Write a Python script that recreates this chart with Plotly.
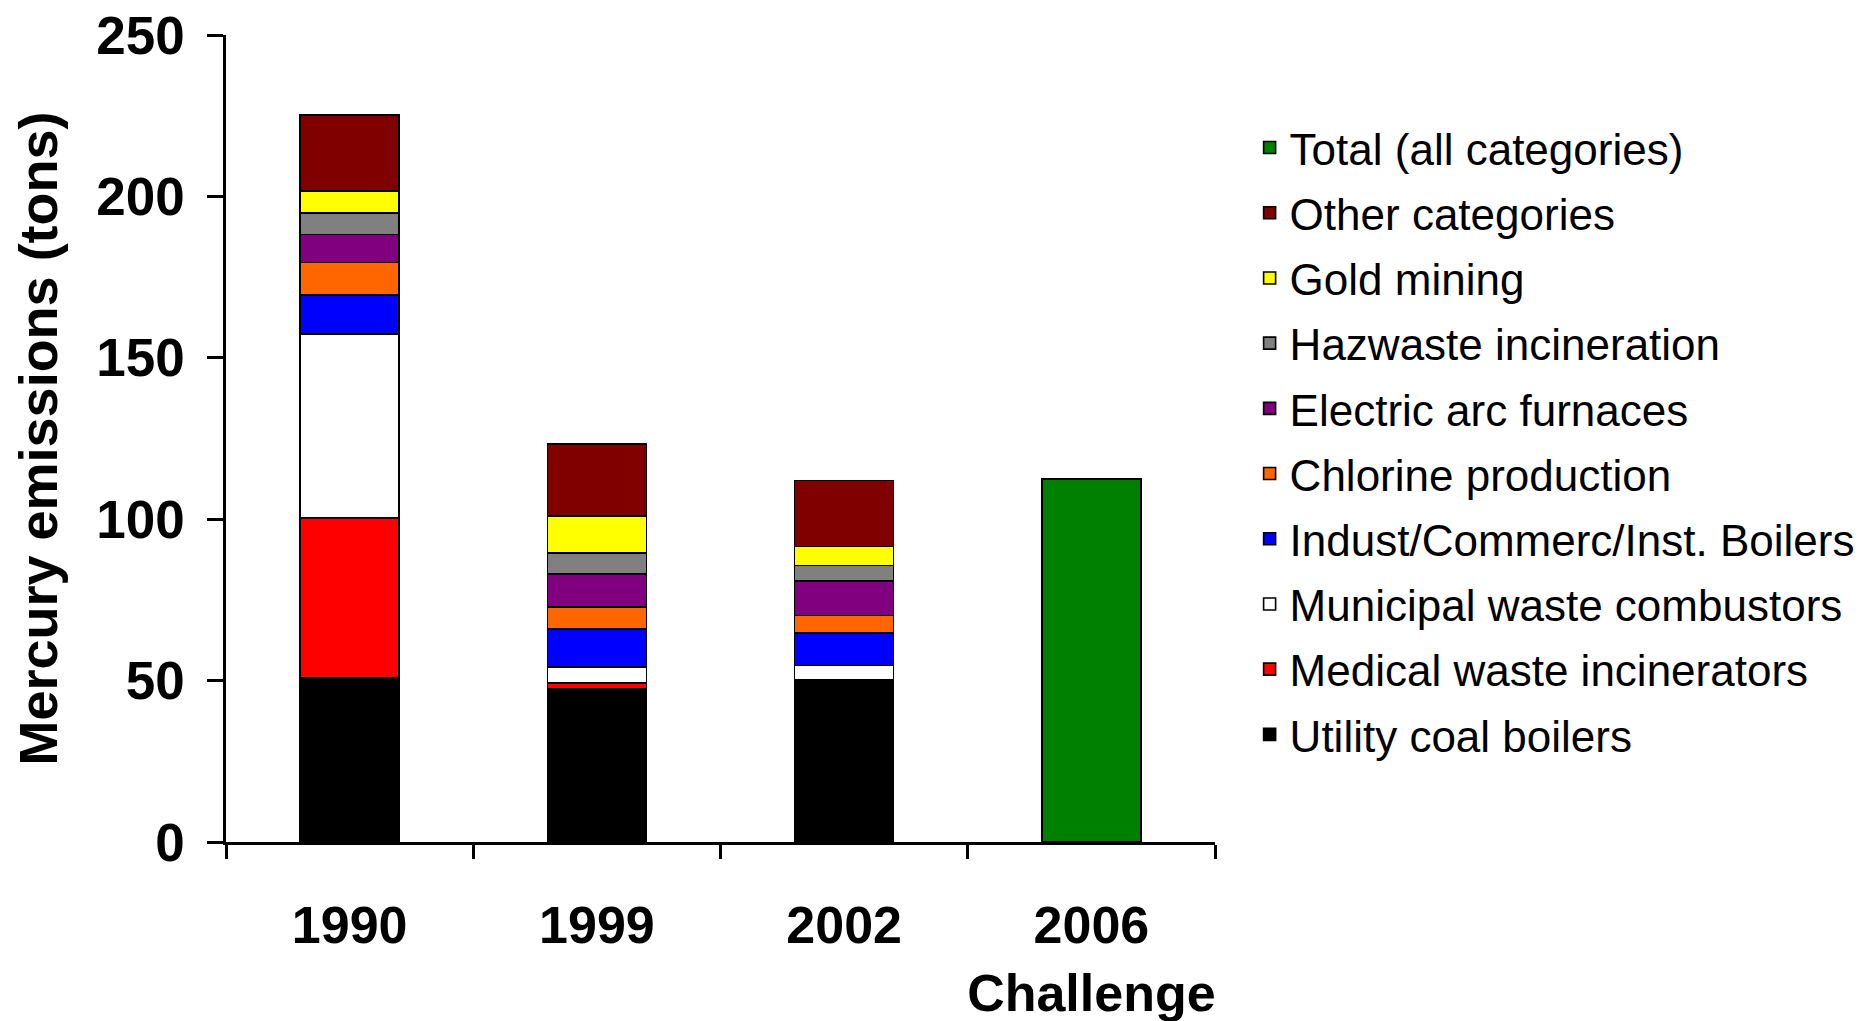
import plotly.graph_objects as go

categories = ["1990", "1999", "2002", "2006<br>Challenge"]

series_names = [
    "Utility coal boilers",
    "Medical waste incinerators",
    "Municipal waste combustors",
    "Indust/Commerc/Inst. Boilers",
    "Chlorine production",
    "Electric arc furnaces",
    "Hazwaste incineration",
    "Gold mining",
    "Other categories",
]
series_colors = [
    "#000000", "#FF0000", "#FFFFFF", "#0000FF", "#FF6600",
    "#800080", "#808080", "#FFFF00", "#800000",
]

# values for 1990, 1999, 2002 (2006 has only the total)
utility_coal = [51.0, 47.5, 50.3, None]
medical_waste = [49.3, 1.7, 0.0, None]
municipal_waste = [57.0, 5.0, 4.4, None]
ici_boilers = [12.2, 11.8, 10.1, None]
chlorine = [10.0, 6.8, 5.4, None]
electric_arc = [8.7, 10.3, 10.6, None]
hazwaste = [6.7, 6.5, 4.9, None]
gold_mining = [6.8, 11.3, 5.9, None]
other_categories = [23.6, 22.4, 20.4, None]
total_all = [None, None, None, 112.5]

series_values = [
    utility_coal, medical_waste, municipal_waste, ici_boilers, chlorine,
    electric_arc, hazwaste, gold_mining, other_categories,
]

FONT = "Arial, Liberation Sans, sans-serif"

fig = go.Figure()
n = len(series_names)
for i, (name, color, vals) in enumerate(zip(series_names, series_colors, series_values)):
    fig.add_trace(go.Bar(
        x=categories, y=vals, name=name, legendgroup=name,
        legendrank=100 - i,
        marker=dict(color=color, line=dict(color="black", width=1.6)),
        width=0.4,
    ))
fig.add_trace(go.Bar(
    x=categories, y=total_all, name="Total (all categories)",
    legendgroup="total", legendrank=100 - n,
    marker=dict(color="#008000", line=dict(color="black", width=1.6)),
    width=0.4,
))

fig.update_layout(
    barmode="stack",
    width=1871, height=1021,
    paper_bgcolor="white", plot_bgcolor="white",
    margin=dict(l=218, r=664, t=27, b=187, autoexpand=False),
    font=dict(family=FONT, color="black"),
    showlegend=True,
    legend=dict(
        traceorder="grouped",
        x=1.035, xanchor="left", y=0.904, yanchor="top",
        font=dict(family=FONT, size=44, color="black"),
        tracegroupgap=5,
        bgcolor="rgba(0,0,0,0)",
    ),
)

fig.update_xaxes(
    type="category",
    range=[-0.5, 3.5],
    automargin=False,
    showline=True, linecolor="black", linewidth=2.5,
    ticks="outside", tickson="boundaries", ticklen=14, tickwidth=2.5,
    tickcolor="black", tickangle=0,
    tickfont=dict(family=FONT, size=52, color="black", weight="bold"),
    ticklabelstandoff=36, ticklabeloverflow="allow",
    showgrid=False, zeroline=False,
)
fig.update_yaxes(
    range=[0, 250], dtick=50, tick0=0,
    automargin=False,
    showline=True, linecolor="black", linewidth=2.5,
    ticks="outside", ticklen=16, tickwidth=2.5, tickcolor="black",
    tickfont=dict(family=FONT, size=53, color="black", weight="bold"),
    ticklabelstandoff=12, ticklabeloverflow="allow",
    showgrid=False, zeroline=False,
    title=dict(text="Mercury emissions (tons)",
               font=dict(family=FONT, size=54, color="black", weight="bold"),
               standoff=28),
)

fig.write_html("out.html")
